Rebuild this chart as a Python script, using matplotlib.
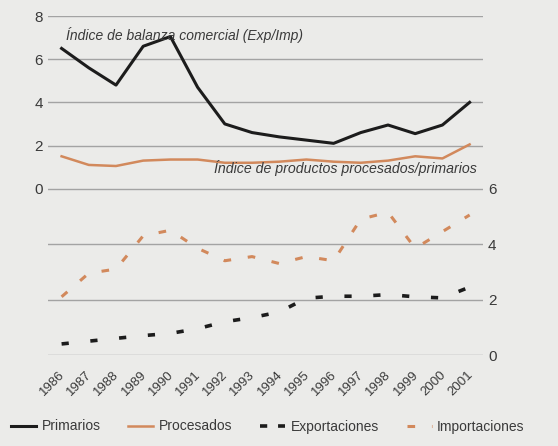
import matplotlib
matplotlib.use('Agg')
import matplotlib.pyplot as plt
from matplotlib.lines import Line2D
import matplotlib.transforms as mtransforms

# Data
years = list(range(1986, 2002))
balanza = [6.5, 5.6, 4.8, 6.6, 7.05, 4.7, 3.0, 2.6, 2.4, 2.25, 2.1, 2.6, 2.95, 2.55, 2.95, 4.0]
procesados = [1.5, 1.1, 1.05, 1.3, 1.35, 1.35, 1.2, 1.2, 1.25, 1.35, 1.25, 1.2, 1.3, 1.5, 1.4, 2.05]
exportaciones = [0.4, 0.5, 0.6, 0.7, 0.78, 0.95, 1.2, 1.35, 1.55, 2.05, 2.12, 2.12, 2.18, 2.1, 2.06, 2.45]
importaciones = [2.1, 2.95, 3.1, 4.3, 4.5, 3.85, 3.4, 3.55, 3.3, 3.55, 3.4, 4.9, 5.15, 3.85, 4.45, 5.05]

legend_labels = ['Primarios', 'Procesados', 'Exportaciones', 'Importaciones']

bg = '#ebebe9'
black = '#1c1c1c'
orange = '#d2895c'
grid = '#a3a3a3'
text_c = '#3a3a3a'

plt.rcParams['font.family'] = ['Liberation Sans', 'DejaVu Sans']

fig = plt.figure(figsize=(5.58, 4.46), dpi=100, facecolor=bg)
ax1 = fig.add_axes([0.086, 0.577, 0.78, 0.387])
ax2 = fig.add_axes([0.086, 0.204, 0.78, 0.373])

for ax in (ax1, ax2):
    ax.set_facecolor(bg)
    for s in ax.spines.values():
        s.set_visible(False)
    ax.set_xlim(1985.5, 2001.5)
    ax.grid(axis='y', color=grid, lw=1)
    ax.set_axisbelow(True)
    ax.tick_params(length=0, labelsize=11, colors=text_c)

# top panel
ax1.plot(years, balanza, color=black, lw=2.2)
ax1.plot(years, procesados, color=orange, lw=1.8)
ax1.set_ylim(0, 8)
ax1.set_yticks([0, 2, 4, 6, 8])
ax1.set_xticks([])
ax1.text(1986.15, 7.13, 'Índice de balanza comercial (Exp/Imp)', fontsize=10,
         style='italic', color=text_c, va='center')
ax1.text(1991.6, 0.97, 'Índice de productos procesados/primarios', fontsize=10.2,
         style='italic', color=text_c, va='center')

# bottom panel
ax2.plot(years, importaciones, color=orange, lw=2.2, linestyle=(0, (2.5, 5.5)))
ax2.plot(years, exportaciones, color=black, lw=2.6, linestyle=(0, (2, 6)))
ax2.set_ylim(0, 6)
ax2.set_yticks([0, 2, 4, 6])
ax2.yaxis.tick_right()
ax2.set_xticks(years)
ax2.set_xticklabels([str(y) for y in years], rotation=45, fontsize=9.5,
                    ha='right', va='top', rotation_mode='anchor')
ax2.tick_params(axis='x', pad=10)
shift = mtransforms.ScaledTranslation(-3 / 100, 0, fig.dpi_scale_trans)
for lbl in ax2.get_xticklabels():
    lbl.set_transform(lbl.get_transform() + shift)

handles = [
    Line2D([], [], color=black, lw=2.2),
    Line2D([], [], color=orange, lw=1.8),
    Line2D([], [], color=black, lw=2.6, linestyle=(0, (2, 3))),
    Line2D([], [], color=orange, lw=2.2, linestyle=(0, (2.5, 5.5))),
]
fig.legend(handles, legend_labels, loc='lower center', bbox_to_anchor=(0.48, 0.0),
           ncol=4, frameon=False, fontsize=10, handlelength=1.8,
           handletextpad=0.4, columnspacing=2.0, labelcolor=text_c)

fig.savefig('out.png', dpi=100, facecolor=bg)
